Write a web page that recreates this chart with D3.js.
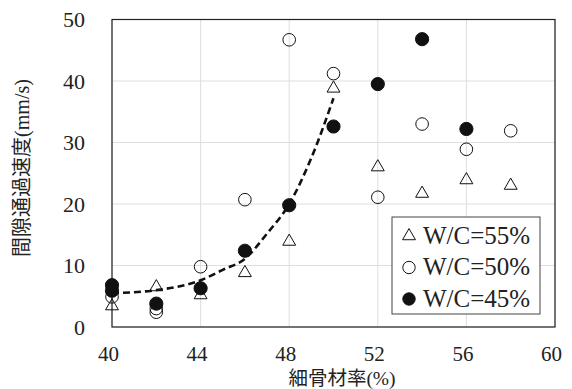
<!DOCTYPE html>
<html>
<head>
<meta charset="utf-8">
<script src="https://cdn.jsdelivr.net/npm/d3@7"></script>
<style>
  body { margin: 0; background: #fff; }
  text { fill: #222; }
  .latin { font-family: 'Liberation Serif', 'Times New Roman', Times, serif; }
  .title { font-family: 'Liberation Serif', 'Noto Sans CJK JP', serif; }
</style>
</head>
<body>
<svg id="chart" width="572" height="389"></svg>
<script>
(function () {
  'use strict';

  // Chart data
  const xTicks = [40, 44, 48, 52, 56, 60];
  const yTicks = [0, 10, 20, 30, 40, 50];

  const wc55 = [[40, 3.4], [42, 6.5], [44, 5.2], [46, 8.8], [48, 13.9], [50, 38.8],
    [52, 26.0], [54, 21.7], [56, 23.9], [58, 23.0]];
  const wc50 = [[40, 4.9], [42, 3.0], [42, 2.4], [44, 9.8], [46, 20.7], [48, 46.7],
    [50, 41.2], [52, 21.1], [54, 33.0], [56, 28.9], [58, 31.9]];
  const wc45 = [[40, 6.8], [40, 5.9], [42, 3.8], [44, 6.3], [46, 12.4], [48, 19.8],
    [50, 32.6], [52, 39.5], [54, 46.8], [56, 32.2]];

  // dashed trend line
  const trend = [[40, 5.5], [42, 6.0], [44, 7.6], [45, 9.3], [46, 11.1], [47, 15.2],
    [48, 20.0], [49, 27.5], [50, 37.2]];

  const legendLabels = ['W/C=55%', 'W/C=50%', 'W/C=45%'];

  const svg = d3.select('#chart');
  const left = 112, right = 555, top = 19.5, bottom = 327;

  const x = d3.scaleLinear().domain([40, 60]).range([left, right]);
  const y = d3.scaleLinear().domain([0, 50]).range([bottom, top]);

  // grid
  const grid = svg.append('g').attr('stroke', '#dedede').attr('stroke-width', 1);
  grid.selectAll('.gx').data(xTicks).enter().append('line')
    .attr('x1', d => x(d)).attr('x2', d => x(d)).attr('y1', top).attr('y2', bottom);
  grid.selectAll('.gy').data(yTicks).enter().append('line')
    .attr('x1', left).attr('x2', right).attr('y1', d => y(d)).attr('y2', d => y(d));

  // frame
  svg.append('rect')
    .attr('x', left).attr('y', top)
    .attr('width', right - left).attr('height', bottom - top)
    .attr('fill', 'none').attr('stroke', '#222').attr('stroke-width', 1.2);

  // tick labels
  svg.append('g').selectAll('text').data(xTicks).enter().append('text')
    .attr('class', 'latin')
    .attr('x', d => x(d) - 3.5).attr('y', 361)
    .attr('text-anchor', 'middle').attr('font-size', 21)
    .text(d => d);
  svg.append('g').selectAll('text').data(yTicks).enter().append('text')
    .attr('class', 'latin')
    .attr('x', 85).attr('y', d => y(d)).attr('dy', '0.35em')
    .attr('text-anchor', 'end').attr('font-size', 22)
    .text(d => d);

  // axis titles
  svg.append('text')
    .attr('class', 'title')
    .attr('x', 342).attr('y', 385)
    .attr('text-anchor', 'middle').attr('font-size', 19.5)
    .text('細骨材率(%)');
  svg.append('text')
    .attr('class', 'title')
    .attr('transform', 'translate(29,168) rotate(-90)')
    .attr('text-anchor', 'middle').attr('font-size', 20)
    .text('間隙通過速度(mm/s)');

  // trend line
  const line = d3.line()
    .x(d => x(d[0]))
    .y(d => y(d[1]))
    .curve(d3.curveMonotoneX);
  svg.append('path')
    .datum(trend)
    .attr('d', line)
    .attr('fill', 'none')
    .attr('stroke', '#111')
    .attr('stroke-width', 2.6)
    .attr('stroke-dasharray', '7,4');

  const tri = d3.symbol(d3.symbolTriangle, 72);

  // markers
  svg.append('g').selectAll('path').data(wc55).enter().append('path')
    .attr('d', tri)
    .attr('transform', d => 'translate(' + x(d[0]) + ',' + y(d[1]) + ')')
    .attr('fill', 'none').attr('stroke', '#111').attr('stroke-width', 1);

  svg.append('g').selectAll('circle').data(wc50).enter().append('circle')
    .attr('cx', d => x(d[0])).attr('cy', d => y(d[1])).attr('r', 6.3)
    .attr('fill', 'none').attr('stroke', '#111').attr('stroke-width', 1);

  svg.append('g').selectAll('circle').data(wc45).enter().append('circle')
    .attr('cx', d => x(d[0])).attr('cy', d => y(d[1])).attr('r', 6.6)
    .attr('fill', '#111').attr('stroke', '#111').attr('stroke-width', 1);

  // legend
  const legend = svg.append('g');
  legend.append('rect')
    .attr('x', 392).attr('y', 217).attr('width', 148).attr('height', 97)
    .attr('fill', '#fff').attr('stroke', '#444').attr('stroke-width', 1);

  const rows = legend.selectAll('g').data(legendLabels).enter().append('g')
    .attr('transform', (d, i) => 'translate(0,' + (235 + i * 31.5) + ')');

  rows.append('text')
    .attr('class', 'latin')
    .attr('x', 423).attr('dy', '0.35em').attr('font-size', 25)
    .text(d => d);

  rows.each(function (d, i) {
    const g = d3.select(this);
    if (i === 0) {
      g.append('path').attr('d', tri)
        .attr('transform', 'translate(409,1)')
        .attr('fill', 'none').attr('stroke', '#111');
    } else {
      g.append('circle').attr('cx', 409).attr('cy', 1).attr('r', 6.2)
        .attr('fill', i === 2 ? '#111' : 'none').attr('stroke', '#111');
    }
  });
}());
</script>
</body>
</html>
